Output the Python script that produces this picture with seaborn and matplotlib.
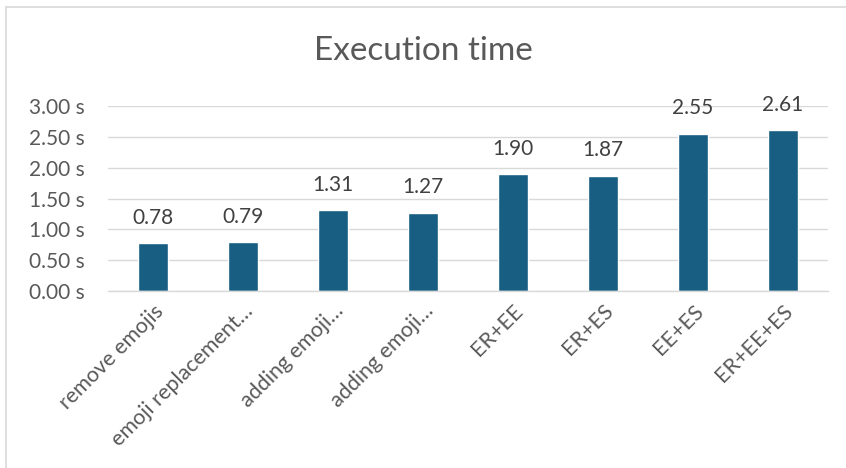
import matplotlib
matplotlib.use('Agg')
import matplotlib.pyplot as plt
import seaborn as sns
from matplotlib.patches import Rectangle
from matplotlib.ticker import FuncFormatter

# data
labels = ["remove emojis", "emoji replacement…", "adding emoji…", "adding emoji…",
          "ER+EE", "ER+ES", "EE+ES", "ER+EE+ES"]
times = [0.78, 0.79, 1.31, 1.27, 1.90, 1.87, 2.55, 2.61]
yticks = [0.0, 0.5, 1.0, 1.5, 2.0, 2.5, 3.0]

sns.set_theme(style="white")
plt.rcParams['font.family'] = ['Lato', 'DejaVu Sans']

fig = plt.figure(figsize=(8.46, 4.68), dpi=100)
ax = fig.add_axes([0.1277, 0.378, 0.851, 0.3955])

sns.barplot(x=list(range(len(times))), y=times, color="#175e82", saturation=1,
            width=0.34, ax=ax)

ax.set_ylim(0, 3.0)
ax.set_xlim(-0.5, len(times) - 0.5)
ax.set_yticks(yticks)
ax.yaxis.set_major_formatter(FuncFormatter(lambda v, p: f"{v:.2f} s"))
ax.grid(axis='y', color='#d9d9d9', linewidth=1)
ax.set_axisbelow(True)
for s in ['top', 'right', 'left']:
    ax.spines[s].set_visible(False)
ax.spines['bottom'].set_color('#d9d9d9')
ax.spines['bottom'].set_linewidth(1)
ax.tick_params(axis='both', length=0, colors='#595959')
ax.tick_params(axis='y', pad=17, labelsize=15)
ax.tick_params(axis='x', pad=7, labelsize=15.5)
ax.set_xticks(range(len(labels)))
ax.set_xticklabels(labels, rotation=45, ha='right', rotation_mode='anchor')
ax.set_xlabel('')
ax.set_ylabel('')

for i, v in enumerate(times):
    ax.annotate(f"{v:.2f}", (i, v), xytext=(0, 11), textcoords='offset points',
                ha='center', va='bottom', fontsize=15, color='#404040')

fig.text(0.5, 0.89, "Execution time", ha='center', va='center',
         fontsize=24, color='#595959')

fig.patches.append(Rectangle((6 / 846, -0.1), 1.2, 1.1 - 7 / 468,
                             transform=fig.transFigure, fill=False,
                             edgecolor='#d9d9d9', linewidth=1.2))

plt.savefig("out.png", dpi=100)
